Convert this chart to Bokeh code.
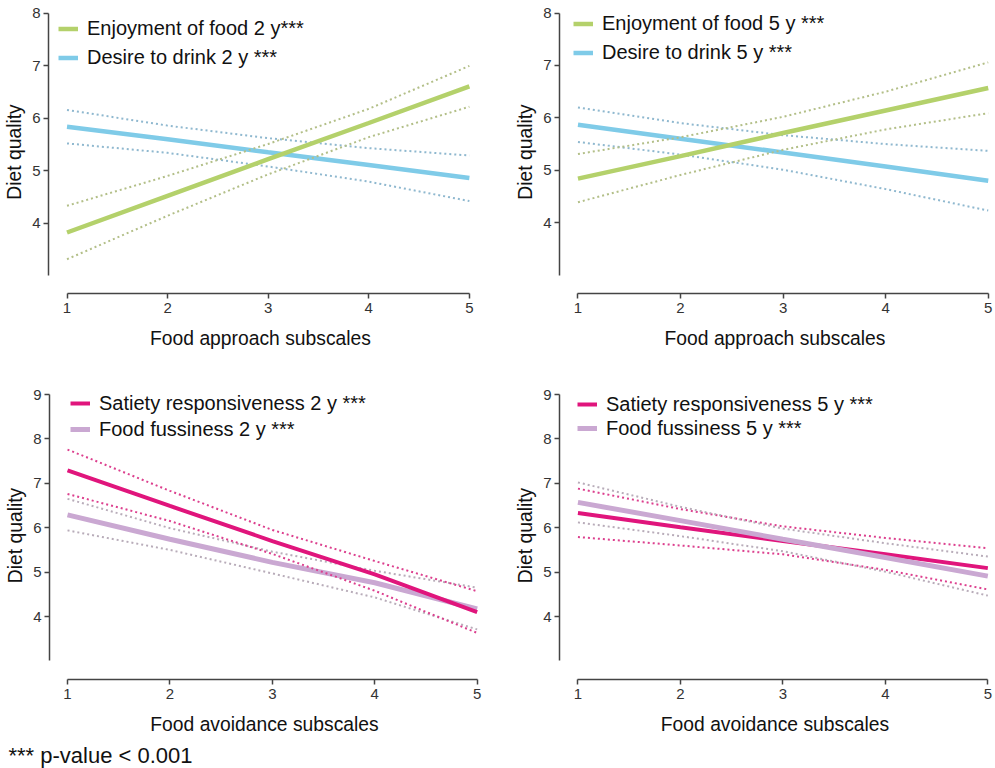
from bokeh.plotting import figure
from bokeh.models import Range1d, FixedTicker, Legend, LegendItem, Label
from bokeh.layouts import row, column
from bokeh.embed import file_html
from bokeh.resources import INLINE

# ---------------- data ----------------
x_levels = [1, 2, 3, 4, 5]
x_ticks = [1, 2, 3, 4, 5]
y_ticks_top = [4, 5, 6, 7, 8]
y_ticks_bottom = [4, 5, 6, 7, 8, 9]

# Food approach, 2 y
eof2_mean = [3.82, 4.52, 5.22, 5.91, 6.61]
eof2_upper = [4.33, 4.90, 5.51, 6.18, 7.00]
eof2_lower = [3.31, 4.14, 4.93, 5.64, 6.22]
dd2_mean = [5.84, 5.60, 5.35, 5.11, 4.86]
dd2_upper = [6.16, 5.86, 5.62, 5.43, 5.29]
dd2_lower = [5.52, 5.34, 5.08, 4.79, 4.42]

# Food approach, 5 y
eof5_mean = [4.84, 5.27, 5.71, 6.14, 6.57]
eof5_upper = [5.31, 5.63, 6.02, 6.50, 7.06]
eof5_lower = [4.39, 4.91, 5.39, 5.78, 6.09]
dd5_mean = [5.87, 5.60, 5.34, 5.07, 4.80]
dd5_upper = [6.20, 5.90, 5.67, 5.50, 5.37]
dd5_lower = [5.54, 5.30, 5.01, 4.64, 4.23]

# Food avoidance, 2 y
sr2_mean = [7.29, 6.49, 5.70, 4.95, 4.10]
sr2_upper = [7.76, 6.83, 5.95, 5.25, 4.57]
sr2_lower = [6.76, 6.15, 5.41, 4.58, 3.63]
ff2_mean = [6.29, 5.74, 5.22, 4.76, 4.17]
ff2_upper = [6.65, 5.99, 5.46, 5.03, 4.65]
ff2_lower = [5.94, 5.50, 4.97, 4.43, 3.71]

# Food avoidance, 5 y
sr5_mean = [6.33, 6.01, 5.70, 5.40, 5.09]
sr5_upper = [6.88, 6.42, 6.03, 5.77, 5.54]
sr5_lower = [5.79, 5.60, 5.40, 5.05, 4.61]
ff5_mean = [6.57, 6.16, 5.74, 5.33, 4.91]
ff5_upper = [7.02, 6.47, 5.98, 5.65, 5.35]
ff5_lower = [6.12, 5.81, 5.47, 5.01, 4.47]

labels = {
    "eof2": "Enjoyment of food 2 y***",
    "dd2": "Desire to drink 2 y ***",
    "eof5": "Enjoyment of food 5 y ***",
    "dd5": "Desire to drink 5 y ***",
    "sr2": "Satiety responsiveness 2 y ***",
    "ff2": "Food fussiness 2 y ***",
    "sr5": "Satiety responsiveness 5 y ***",
    "ff5": "Food fussiness 5 y ***",
}
footnote = "*** p-value < 0.001"

# ---------------- style ----------------
FONT = "Liberation Sans"
AX = "#444444"
GREEN, GREEN_CI = "#b4d16b", "#b3bf88"
BLUE, BLUE_CI = "#7fcbe8", "#8fb8cf"
MAGENTA, MAGENTA_CI = "#e0157c", "#dc3f8e"
LAV, LAV_CI = "#caa8d2", "#b8acb9"


def panel(w, h, bl, br, bt, bb, xr, yr, ybounds, yticks, xlabel):
    p = figure(width=w, height=h, output_backend="svg", toolbar_location=None,
               x_range=Range1d(*xr), y_range=Range1d(*yr),
               min_border_left=bl, min_border_right=br,
               min_border_top=bt, min_border_bottom=bb)
    p.xgrid.visible = False
    p.ygrid.visible = False
    p.outline_line_color = None
    p.background_fill_color = "white"
    p.border_fill_color = "white"
    for ax in (p.xaxis[0], p.yaxis[0]):
        ax.axis_line_color = AX
        ax.axis_line_width = 1.5
        ax.major_tick_line_color = AX
        ax.major_tick_line_width = 1.5
        ax.major_tick_out = 5
        ax.major_tick_in = 0
        ax.minor_tick_line_color = None
        ax.major_label_text_font = FONT
        ax.major_label_text_font_size = "15px"
        ax.major_label_text_color = "#333333"
        ax.axis_label_text_font = FONT
        ax.axis_label_text_font_size = "19.3px"
        ax.axis_label_text_font_style = "normal"
        ax.axis_label_text_color = "#111111"
    p.xaxis.bounds = (1, 5)
    p.xaxis.ticker = FixedTicker(ticks=x_ticks)
    p.xaxis.axis_label = xlabel
    p.xaxis.major_label_standoff = 4
    p.xaxis.axis_label_standoff = 12
    p.yaxis.bounds = ybounds
    p.yaxis.ticker = FixedTicker(ticks=yticks)
    p.yaxis.axis_label = "Diet quality"
    p.yaxis.major_label_standoff = 3
    p.yaxis.axis_label_standoff = 4
    return p


def series(p, mean, upper, lower, color, ci_color, width):
    p.line(x_levels, upper, line_color=ci_color, line_width=2, line_dash="2 3")
    p.line(x_levels, lower, line_color=ci_color, line_width=2, line_dash="2 3")
    return p.line(x_levels, mean, line_color=color, line_width=width)


def legend(p, items, loc, row_h):
    leg = Legend(items=[LegendItem(label=l, renderers=[r]) for l, r in items],
                 location=loc, glyph_width=20, glyph_height=row_h, label_height=row_h,
                 label_standoff=9, spacing=0, padding=0, margin=0,
                 border_line_color=None, background_fill_alpha=0,
                 label_text_font=FONT, label_text_font_size="20px",
                 label_text_color="#111111")
    p.add_layout(leg)


# Top-left
p1 = panel(500, 375, 48, 28, 10, 82, (0.816, 5.031), (2.656, 8.057), (3, 8), y_ticks_top,
           "Food approach subscales")
r_dd2 = series(p1, dd2_mean, dd2_upper, dd2_lower, BLUE, BLUE_CI, 4.5)
r_eof2 = series(p1, eof2_mean, eof2_upper, eof2_lower, GREEN, GREEN_CI, 4.5)
legend(p1, [(labels["eof2"], r_eof2), (labels["dd2"], r_dd2)], (10, 221), 29)

# Top-right
p2 = panel(495, 375, 59, 5, 9, 78, (0.820, 5.022), (2.647, 8.05), (3, 8), y_ticks_top,
           "Food approach subscales")
r_dd5 = series(p2, dd5_mean, dd5_upper, dd5_lower, BLUE, BLUE_CI, 4.5)
r_eof5 = series(p2, eof5_mean, eof5_upper, eof5_lower, GREEN, GREEN_CI, 4.5)
legend(p2, [(labels["eof5"], r_eof5), (labels["dd5"], r_dd5)], (14, 226), 29)

# Bottom-left
p3 = panel(500, 362, 49, 21, 16, 58, (0.824, 5.023), (2.581, 9.068), (3, 9), y_ticks_bottom,
           "Food avoidance subscales")
r_ff2 = series(p3, ff2_mean, ff2_upper, ff2_lower, LAV, LAV_CI, 5)
r_sr2 = series(p3, sr2_mean, sr2_upper, sr2_lower, MAGENTA, MAGENTA_CI, 4)
legend(p3, [(labels["sr2"], r_sr2), (labels["ff2"], r_ff2)], (21, 237), 26)

# Bottom-right
p4 = panel(495, 362, 59, 5, 16, 58, (0.820, 5.026), (2.581, 9.068), (3, 9), y_ticks_bottom,
           "Food avoidance subscales")
r_sr5 = series(p4, sr5_mean, sr5_upper, sr5_lower, MAGENTA, MAGENTA_CI, 4)
r_ff5 = series(p4, ff5_mean, ff5_upper, ff5_lower, LAV, LAV_CI, 5)
legend(p4, [(labels["sr5"], r_sr5), (labels["ff5"], r_ff5)], (18, 239), 24)

# Footnote strip
p5 = figure(width=500, height=31, output_backend="svg", toolbar_location=None,
            x_axis_location=None, y_axis_location=None,
            min_border_left=0, min_border_right=0, min_border_top=0, min_border_bottom=0)
p5.xgrid.visible = False
p5.ygrid.visible = False
p5.outline_line_color = None
p5.add_layout(Label(x=8, y=13, x_units="screen", y_units="screen", text=footnote,
                    text_font=FONT, text_font_size="22px", text_baseline="middle",
                    text_color="#111111"))

layout = column(row(p1, p2), row(p3, p4), p5)
open("out.html", "w").write(file_html(layout, INLINE))
